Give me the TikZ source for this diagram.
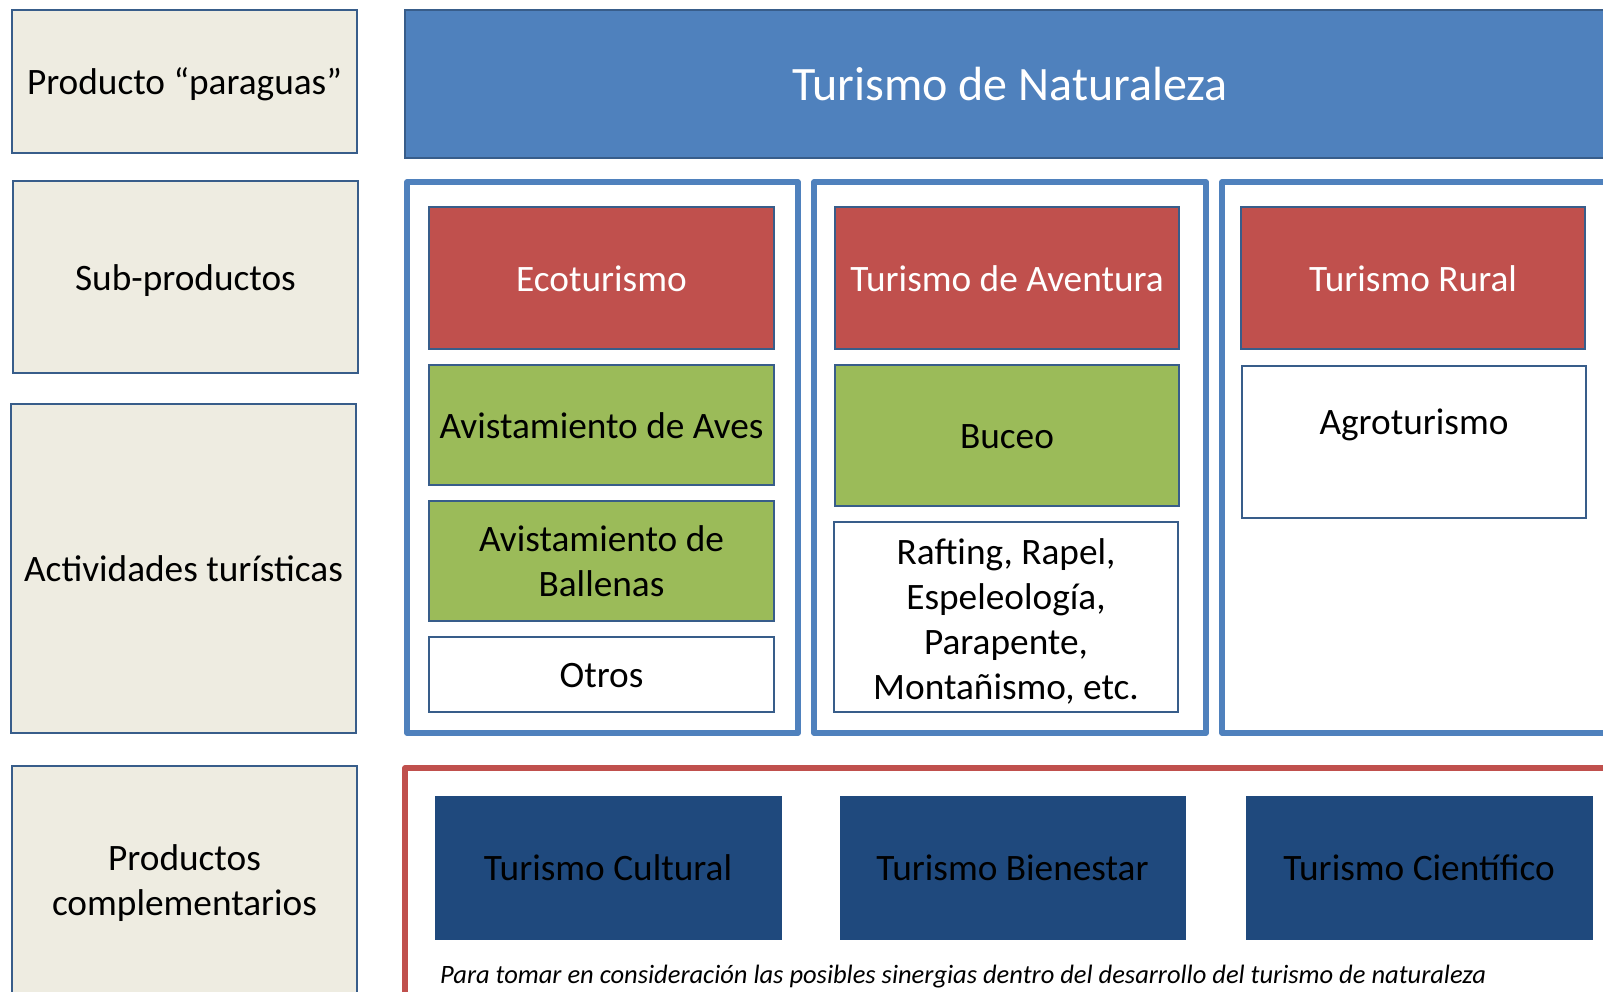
\documentclass[tikz,border=0pt]{standalone}
\usepackage{fontspec}
\setmainfont{Carlito}
\definecolor{topblue}{HTML}{4F81BD}
\definecolor{subred}{HTML}{C0504D}
\definecolor{actgreen}{HTML}{9BBB59}
\definecolor{navy}{HTML}{1F497D}
\definecolor{beige}{HTML}{EEECE1}
\definecolor{edge}{HTML}{385D8A}
\tikzset{
  base/.style={rectangle, draw=edge, line width=2pt, inner sep=0pt, align=center, font=\fontsize{37.3}{45}\selectfont},
  one/.style={text height=32pt, text depth=6pt},
  labelbox/.style={base, fill=beige},
  redbox/.style={base, fill=subred, text=white},
  greenbox/.style={base, fill=actgreen, text=black},
  whitebox/.style={base, fill=white, text=black},
  navybox/.style={base, draw=navy, line width=0.8pt, fill=navy, text=black},
  column/.style={rectangle, draw=topblue, line width=5.5pt, line join=round, fill=white, inner sep=0pt},
  redframe/.style={rectangle, draw=subred, line width=5.5pt, line join=round, fill=white, inner sep=0pt},
}
\begin{document}
\begin{tikzpicture}[x=1pt,y=-1pt]
\useasboundingbox (0,0) rectangle (1603,991);
\clip (0,0) rectangle (1603,991);
\fill[white] (0,0) rectangle (1603,991);
% left labels
\node[labelbox, one, minimum width=345pt, minimum height=143pt] (l1) at (184.5,81.5) {Producto “paraguas”};
\node[labelbox, one, minimum width=345pt, minimum height=192pt] (l2) at (185.5,277) {Sub-productos};
\node[labelbox, one, minimum width=345pt, minimum height=329pt] (l3) at (183.5,568.5) {Actividades turísticas};
\node[labelbox, minimum width=345pt, minimum height=234pt] (l4) at (184.5,883) {Productos\\complementarios};
% umbrella
\node[base, fill=topblue, text=white, minimum width=1210pt, minimum height=148pt, font=\fontsize{48}{58}\selectfont] (top) at (1010,84) {Turismo de Naturaleza};
% columns
\node[column, minimum width=391pt, minimum height=551pt] (c1) at (602.5,457.5) {};
\node[column, minimum width=392pt, minimum height=551pt] (c2) at (1010,457.5) {};
\node[column, minimum width=392pt, minimum height=551pt] (c3) at (1418,457.5) {};
% column 1
\node[redbox, one, minimum width=345pt, minimum height=142pt] (eco) at (601.5,278) {Ecoturismo};
\node[greenbox, one, minimum width=345pt, minimum height=120pt] (aves) at (601.5,425) {Avistamiento de Aves};
\node[greenbox, minimum width=345pt, minimum height=120pt] (ball) at (601.5,561) {Avistamiento de\\Ballenas};
\node[whitebox, one, minimum width=345pt, minimum height=75pt] (otros) at (601.5,674.5) {Otros};
% column 2
\node[redbox, one, minimum width=344pt, minimum height=142pt] (avent) at (1007,278) {Turismo de Aventura};
\node[greenbox, one, minimum width=344pt, minimum height=141pt] (buceo) at (1007,435.5) {Buceo};
\node[whitebox, minimum width=344pt, minimum height=190pt] (raft) at (1006,617) {\rule{0pt}{34pt}Rafting, Rapel,\\Espeleología,\\Parapente,\\Montañismo, etc.};
% column 3
\node[redbox, one, minimum width=344pt, minimum height=142pt] (rural) at (1413,278) {Turismo Rural};
\node[whitebox, minimum width=344pt, minimum height=152pt] (agro) at (1414,442) {};
\node[font=\fontsize{37.3}{45}\selectfont, one, inner sep=0pt] (agrotxt) at (1414,421) {Agroturismo};
% complementary
\node[redframe, minimum width=1209pt, minimum height=227pt] (comp) at (1009.5,881.5) {};
\node[navybox, one, minimum width=346pt, minimum height=143pt] (cult) at (608,867.5) {Turismo Cultural};
\node[navybox, one, minimum width=345pt, minimum height=143pt] (bien) at (1012.5,867.5) {Turismo Bienestar};
\node[navybox, one, minimum width=346pt, minimum height=143pt] (cien) at (1419,867.5) {Turismo Científico};
\node[font=\fontsize{26.5}{32}\selectfont\itshape, inner sep=0pt, anchor=west] (note) at (440,977) {Para tomar en consideración las posibles sinergias dentro del desarrollo del turismo de naturaleza};
\end{tikzpicture}
\end{document}
